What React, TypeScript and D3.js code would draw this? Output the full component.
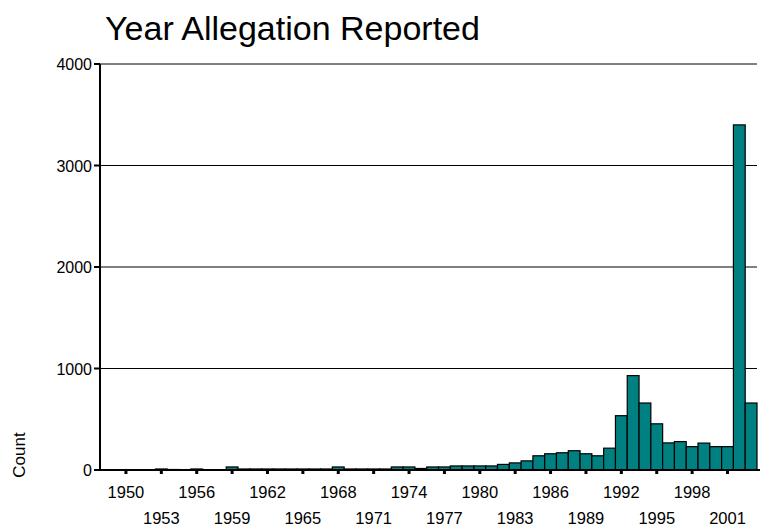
import React, { useEffect, useRef } from 'react';
import * as d3 from 'd3';

const years = d3.range(1950, 2004);
const counts = [
  0, 0, 0, 10, 5, 3, 10, 3, 3, 30,
  10, 10, 10, 10, 10, 10, 10, 10, 30, 10,
  10, 10, 10, 30, 30, 15, 30, 30, 40, 40,
  40, 40, 55, 70, 90, 140, 160, 170, 190, 160,
  140, 215, 535, 930, 660, 455, 267, 280, 230, 265,
  230, 230, 3400, 660,
];
const yTicks = [0, 1000, 2000, 3000, 4000];
const labelYears = d3.range(1950, 2004, 3);

const App: React.FC = () => {
  const svgRef = useRef<SVGSVGElement>(null);

  useEffect(() => {
    if (!svgRef.current) return;
    const svg = d3.select(svgRef.current);
    svg.selectAll('*').remove();

    const left = 100, right = 757, top = 64, bottom = 470;
    const x = d3.scaleLinear().domain([1947.8, 2003.5]).range([left, right]);
    const y = d3.scaleLinear().domain([0, 4000]).range([bottom, top]);
    const bw = x(1951) - x(1950);

    // grid lines
    svg.selectAll('.grid')
      .data(yTicks.slice(1))
      .enter()
      .append('line')
      .attr('x1', left).attr('x2', right)
      .attr('y1', d => y(d)).attr('y2', d => y(d))
      .attr('stroke', '#000').attr('stroke-width', 1);

    // bars
    svg.selectAll('.bar')
      .data(years)
      .enter()
      .append('rect')
      .attr('x', d => x(d) - bw / 2)
      .attr('width', bw)
      .attr('y', (d, i) => y(counts[i]))
      .attr('height', (d, i) => bottom - y(counts[i]))
      .attr('fill', '#008080')
      .attr('stroke', '#000')
      .attr('stroke-width', 1.2);

    // axes
    svg.append('line').attr('x1', left).attr('x2', left).attr('y1', top).attr('y2', bottom)
      .attr('stroke', '#000').attr('stroke-width', 2);
    svg.append('line').attr('x1', left - 5).attr('x2', right + 3).attr('y1', bottom).attr('y2', bottom)
      .attr('stroke', '#000').attr('stroke-width', 2);

    svg.selectAll('.ytick')
      .data(yTicks)
      .enter()
      .append('line')
      .attr('x1', left - 6).attr('x2', left)
      .attr('y1', d => y(d)).attr('y2', d => y(d))
      .attr('stroke', '#000').attr('stroke-width', 2);

    svg.selectAll('.ylabel')
      .data(yTicks)
      .enter()
      .append('text')
      .attr('x', left - 8)
      .attr('y', d => y(d) + 6)
      .attr('text-anchor', 'end')
      .style('font-size', '16px')
      .text(d => d);

    svg.selectAll('.xtick')
      .data(labelYears)
      .enter()
      .append('line')
      .attr('x1', d => x(d)).attr('x2', d => x(d))
      .attr('y1', bottom).attr('y2', bottom + 4)
      .attr('stroke', '#000').attr('stroke-width', 3);

    svg.selectAll('.xlabel')
      .data(labelYears)
      .enter()
      .append('text')
      .attr('x', d => x(d))
      .attr('y', (d, i) => (i % 2 === 0 ? 498 : 524))
      .attr('text-anchor', 'middle')
      .style('font-size', '16.5px')
      .text(d => d);

    svg.append('text')
      .attr('transform', `translate(25,${bottom - 15}) rotate(-90)`)
      .attr('text-anchor', 'middle')
      .style('font-size', '17px')
      .text('Count');

    svg.append('text')
      .attr('x', 105)
      .attr('y', 40)
      .style('font-size', '34px')
      .text('Year Allegation Reported');
  }, []);

  return (
    <svg ref={svgRef} width={764} height={529}
      style={{ position: 'absolute', left: 0, top: 0, fontFamily: '"Liberation Sans", Arial, sans-serif' }} />
  );
};

export default App;
